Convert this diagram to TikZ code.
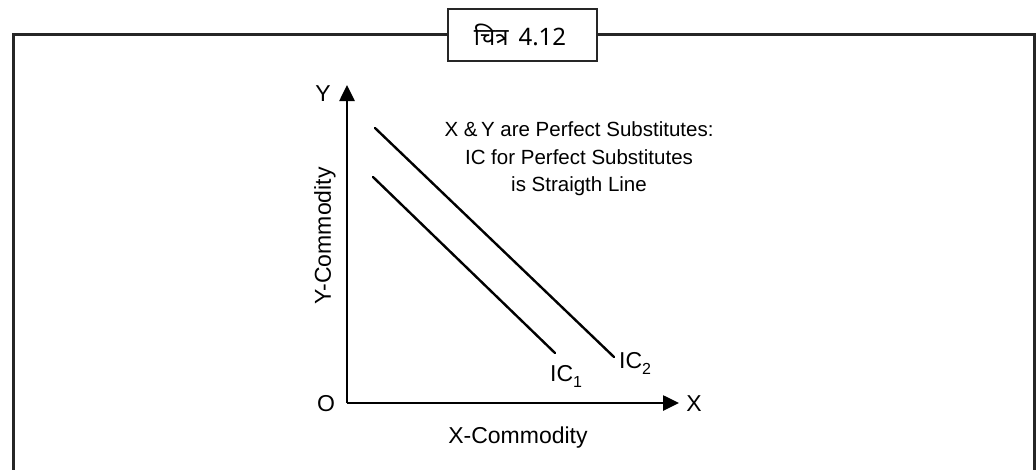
\documentclass[tikz,border=0pt]{standalone}
\usepackage{fontspec}
\setmainfont{Liberation Sans}
\newfontfamily\devfont[Script=Devanagari]{Noto Sans}
\usetikzlibrary{arrows.meta}
\newcommand{\mysub}[1]{\raisebox{-6pt}{\fontsize{16}{16}\selectfont #1}}
\begin{document}
\begin{tikzpicture}[x=1pt,y=-1pt,
  frame/.style={line width=3pt,draw=black!85},
  titlebox/.style={draw=black!85,line width=2pt,fill=white},
  axis/.style={line width=2.6pt,-{Triangle[length=16pt,width=15pt]}},
  icline/.style={line width=2.4pt,line cap=round},
  lbl/.style={inner sep=0pt,font=\fontsize{23}{27}\selectfont},
  note/.style={inner sep=0pt,align=center,font=\fontsize{20.5}{27.5}\selectfont}]
\useasboundingbox (0,0) rectangle (1036,469);
% outer frame (open at the bottom)
\coordinate (fbl) at (13,470);
\coordinate (ftl) at (13,34);
\coordinate (ftr) at (1034,34);
\coordinate (fbr) at (1034,470);
\draw[frame] (fbl) -- (ftl) -- (ftr) -- (fbr);
% title box
\draw[titlebox] (448,9) rectangle (597,61);
\node[inner sep=0pt,font=\devfont\fontsize{24}{28}\selectfont] (title) at (520,35) {चित्र\hspace{10pt}4.12};
% axes
\coordinate (O) at (347,403);
\coordinate (Ytop) at (347,85);
\coordinate (Xend) at (679,403);
\draw[axis] (O) -- (Ytop);
\draw[axis] (O) -- (Xend);
\node[lbl] (ylab) at (323,94) {Y};
\node[lbl] (xlab) at (694,404) {X};
\node[lbl] (olab) at (326,404) {O};
\node[lbl] (xcom) at (518,438) {X-Commodity};
\node[lbl,rotate=90] (ycom) at (325,236) {Y-Commodity};
% indifference curves
\coordinate (a1) at (373,177);
\coordinate (b1) at (555,353);
\coordinate (a2) at (375,128);
\coordinate (b2) at (614,357);
\draw[icline] (a1) -- (b1);
\draw[icline] (a2) -- (b2);
\node[lbl,anchor=base west] (ic1) at (550,381) {IC\mysub{1}};
\node[lbl,anchor=base west] (ic2) at (619,368) {IC\mysub{2}};
% note
\node[note] (txt) at (579,159) {X \&\,Y are Perfect Substitutes:\\IC for Perfect Substitutes\\is Straigth Line};
\end{tikzpicture}
\end{document}
